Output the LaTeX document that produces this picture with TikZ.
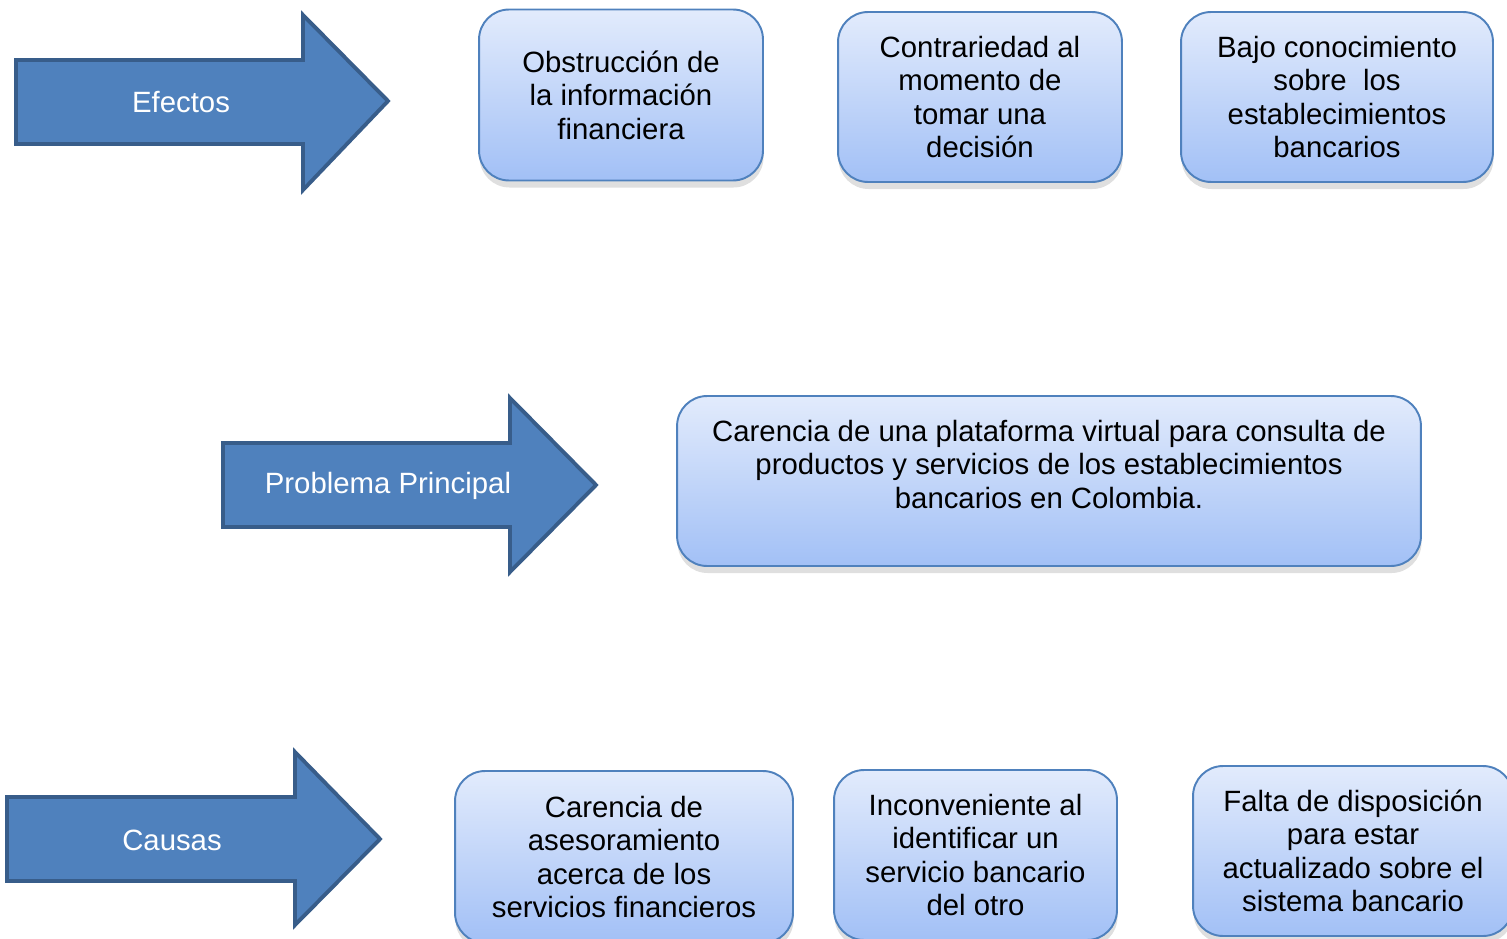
\documentclass[tikz,border=0pt]{standalone}
\usepackage{fontspec}
\setmainfont{Liberation Sans}
\usetikzlibrary{shadows}

\definecolor{flechaazul}{RGB}{79,129,189}
\definecolor{bordeazul}{RGB}{56,93,138}
\definecolor{cajaarriba}{RGB}{226,235,252}
\definecolor{cajaabajo}{RGB}{162,192,246}

\tikzset{
  flecha/.style={fill=flechaazul, draw=bordeazul, line width=2.2pt, line join=miter},
  rotulo/.style={text=white, font=\fontsize{16.7}{19}\selectfont},
  caja/.style={rounded corners=0.6cm, draw=flechaazul, line width=1.1pt,
    top color=cajaarriba, bottom color=cajaabajo, align=center, inner sep=0pt,
    font=\fontsize{16.7}{19}\selectfont,
    drop shadow={opacity=0.25, shadow xshift=0.3pt, shadow yshift=-4pt}}
}

\begin{document}
\begin{tikzpicture}[x=0.02cm, y=-0.02cm]
        \useasboundingbox (0,0) rectangle (1507,939);
        % flechas
        \draw[flecha] (16,60) -- (303,60) -- (303,15) -- (388,101) -- (303,190) -- (303,144) -- (16,144) -- cycle;
        \node[rotulo] (efectos) at (181,102) {Efectos};
        \draw[flecha] (223,443) -- (510,443) -- (510,398) -- (596,485) -- (510,572) -- (510,527) -- (223,527) -- cycle;
        \node[rotulo] (problema) at (388,486) {Problema Principal};
        \draw[flecha] (7,797) -- (295,797) -- (295,752) -- (380,839) -- (295,925) -- (295,881) -- (7,881) -- cycle;
        \node[rotulo] (causas) at (172,840) {Causas};
        % efectos
        \node[caja, minimum width=5.68cm, minimum height=3.42cm] (efecto1) at (621,95) {Obstrucción de\\la información\\financiera};
        \node[caja, minimum width=5.68cm, minimum height=3.4cm] (efecto2) at (980,97) {Contrariedad al\\momento de\\tomar una\\decisión};
        \node[caja, minimum width=6.24cm, minimum height=3.4cm] (efecto3) at (1337,97) {Bajo conocimiento\\sobre \ los\\establecimientos\\bancarios};
        % problema principal
        \node[caja, minimum width=14.88cm, minimum height=3.4cm] (principal) at (1049,481) {Carencia de una plataforma virtual para consulta de\\productos y servicios de los establecimientos\\bancarios en Colombia.\\ \mbox{}};
        % causas
        \node[caja, minimum width=6.76cm, minimum height=3.44cm] (causa1) at (624,857) {Carencia de\\asesoramiento\\acerca de los\\servicios financieros};
        \node[caja, minimum width=5.66cm, minimum height=3.4cm] (causa2) at (975.5,855) {Inconveniente al\\identificar un\\servicio bancario\\del otro};
        \node[caja, minimum width=6.4cm, minimum height=3.4cm] (causa3) at (1353,851) {Falta de disposición\\para estar\\actualizado sobre el\\sistema bancario};
    \end{tikzpicture}
\end{document}
